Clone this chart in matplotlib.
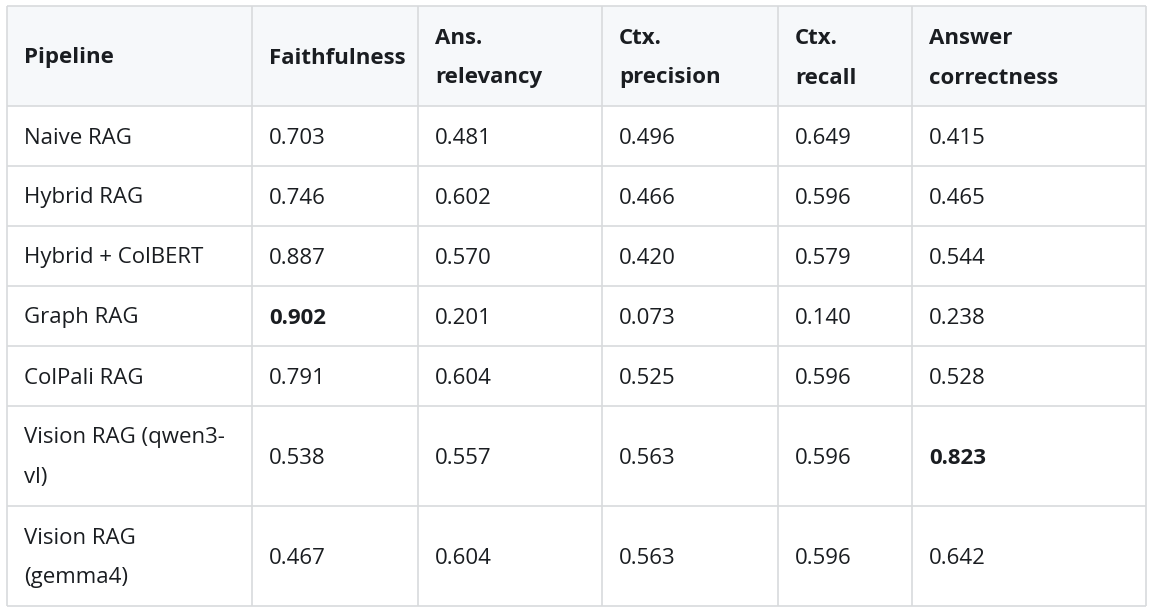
import matplotlib
matplotlib.use("Agg")
import matplotlib.pyplot as plt
from matplotlib.patches import Rectangle

plt.rcParams['font.family'] = ['Open Sans', 'DejaVu Sans']

# table data
headers = [["Pipeline"], ["Faithfulness"], ["Ans.", "relevancy"], ["Ctx.", "precision"],
           ["Ctx.", "recall"], ["Answer", "correctness"]]
pipelines = [["Naive RAG"], ["Hybrid RAG"], ["Hybrid + ColBERT"], ["Graph RAG"],
             ["ColPali RAG"], ["Vision RAG (qwen3-", "vl)"], ["Vision RAG", "(gemma4)"]]
faithfulness = ["0.703", "0.746", "0.887", "0.902", "0.791", "0.538", "0.467"]
ans_relevancy = ["0.481", "0.602", "0.570", "0.201", "0.604", "0.557", "0.604"]
ctx_precision = ["0.496", "0.466", "0.420", "0.073", "0.525", "0.563", "0.563"]
ctx_recall = ["0.649", "0.596", "0.579", "0.140", "0.596", "0.596", "0.596"]
answer_correctness = ["0.415", "0.465", "0.544", "0.238", "0.528", "0.823", "0.642"]
bold_cells = [(3, 1), (5, 5)]  # (row, col) shown in bold

# layout in pixels
W, H = 1153, 609
col_edges = [7, 252, 418, 602, 778, 912, 1146]
row_edges = [6, 106, 166, 226, 286, 346, 406, 506, 606]
pad = 17
line_h = 40
border = "#d8dadd"
text_color = "#1a1d21"
fs = 16

fig = plt.figure(figsize=(W / 100, H / 100), dpi=100)
ax = fig.add_axes([0, 0, 1, 1])
ax.set_xlim(0, W)
ax.set_ylim(H, 0)
ax.axis("off")

ax.add_patch(Rectangle((col_edges[0], row_edges[0]), col_edges[-1] - col_edges[0],
                       row_edges[1] - row_edges[0], facecolor="#f6f8fa", edgecolor="none"))
ax.hlines(row_edges, col_edges[0], col_edges[-1], color=border, lw=1.2)
ax.vlines(col_edges, row_edges[0], row_edges[-1], color=border, lw=1.2)


def cell_text(lines, r, c, weight):
    yc = (row_edges[r] + row_edges[r + 1]) / 2 + 2
    n = len(lines)
    for i, s in enumerate(lines):
        y = yc + (i - (n - 1) / 2) * line_h
        ax.text(col_edges[c] + pad, y, s, fontsize=fs, color=text_color,
                fontweight=weight, ha="left", va="center")


for c, h in enumerate(headers):
    cell_text(h, 0, c, "bold")

columns = [faithfulness, ans_relevancy, ctx_precision, ctx_recall, answer_correctness]
for r, name in enumerate(pipelines):
    cell_text(name, r + 1, 0, "normal")
    for c, col in enumerate(columns):
        w = "bold" if (r, c + 1) in bold_cells else "normal"
        cell_text([col[r]], r + 1, c + 1, w)

fig.savefig("out.png", dpi=100, facecolor="white")
